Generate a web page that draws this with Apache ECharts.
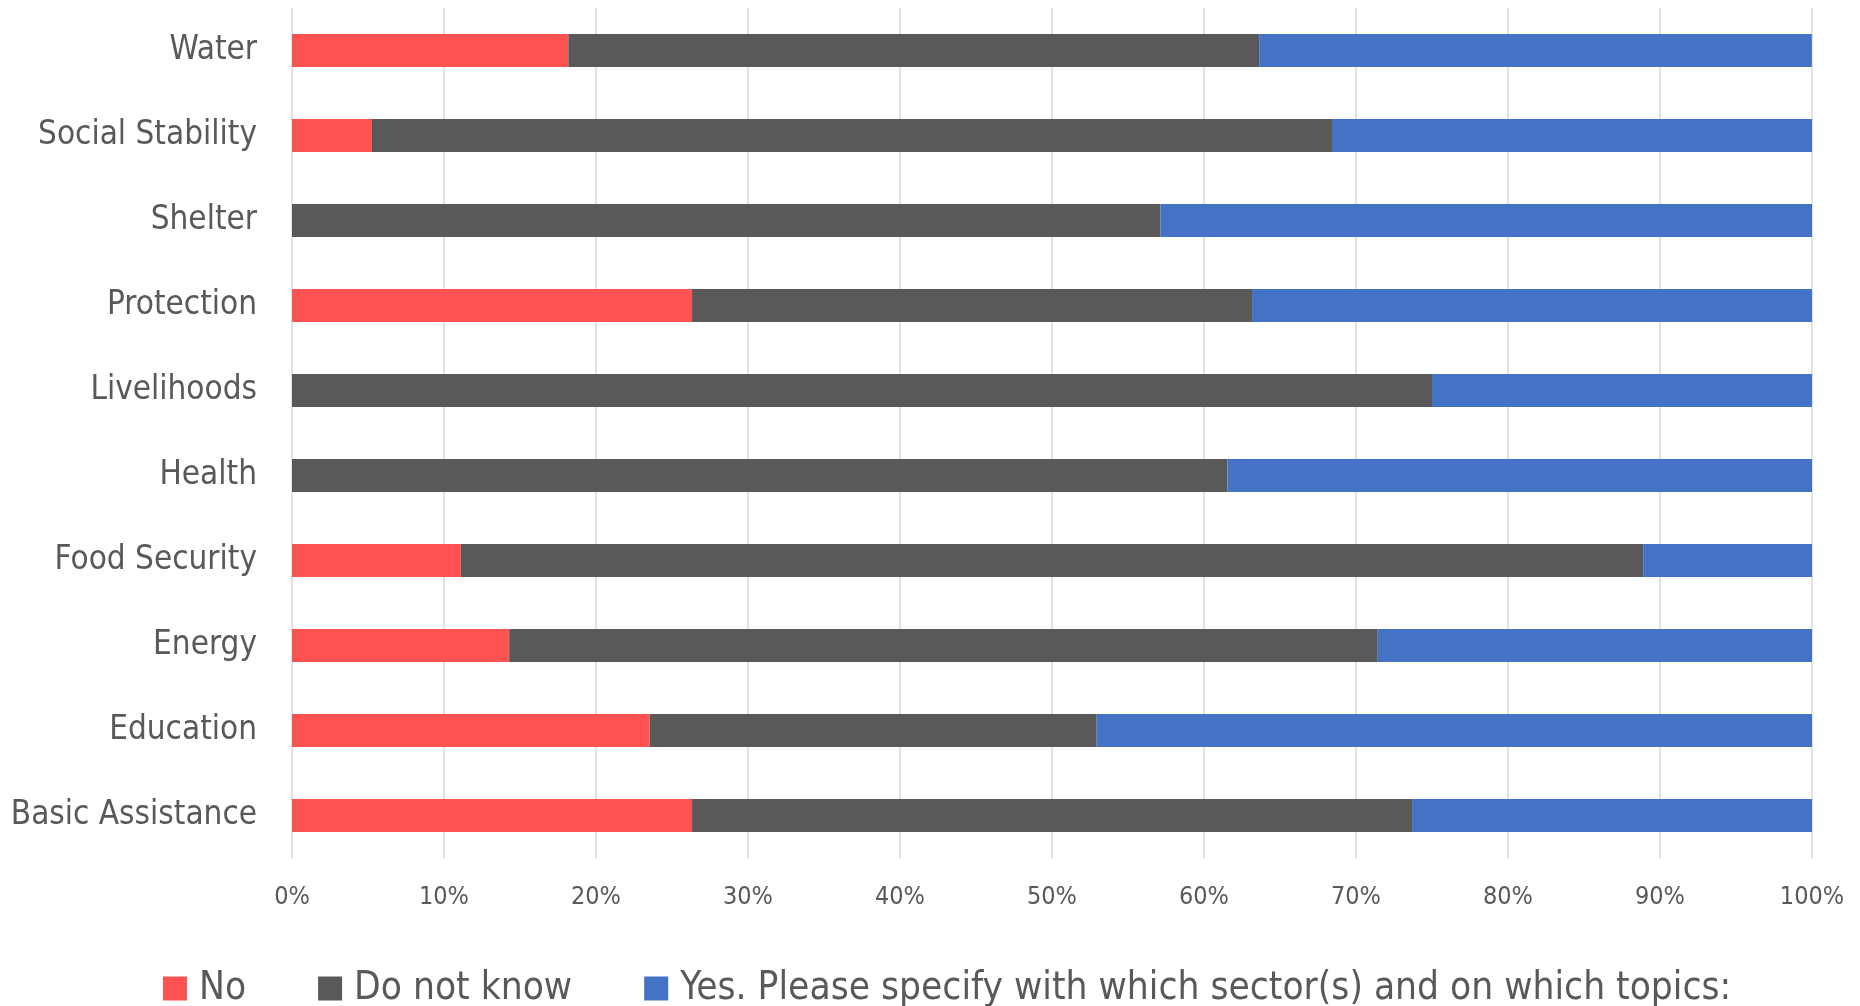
<!doctype html>
<html>
	<head>
		<meta charset="utf-8">
		<script src="https://cdn.jsdelivr.net/npm/echarts@6/dist/echarts.min.js"></script>
		<title>Coordination by sector</title>
		<style>
			html, body { margin: 0; padding: 0; background: #ffffff; }
			#chart { width: 1860px; height: 1006px; }
		</style>
	</head>
	<body>
		<div id="chart"></div>
		<script>

		// bottom to top, like the category axis draws them
		var sectors = ['Basic Assistance', 'Education', 'Energy', 'Food Security', 'Health',
			'Livelihoods', 'Protection', 'Shelter', 'Social Stability', 'Water']

		var no_values = [26.32, 23.53, 14.29, 11.11, 0, 0, 26.32, 0, 5.26, 18.18]
		var dont_know_values = [47.37, 29.41, 57.14, 77.78, 61.54, 75.00, 36.84, 57.14, 63.16, 45.45]
		var yes_values = [26.32, 47.06, 28.57, 11.11, 38.46, 25.00, 36.84, 42.86, 31.58, 36.36]

		var series_names = ['No', 'Do not know', 'Yes. Please specify with which sector(s) and on which topics:']
		var colors = ['#FF5252', '#595959', '#4472C4']

		var font = "'Liberation Sans Narrow', 'DejaVu Sans Condensed', sans-serif"
		var text_color = '#595959'

		var all_values = [no_values, dont_know_values, yes_values]
		var series = []
		all_values.forEach((values, i) => {
			series.push({
				name: series_names[i],
				type: 'bar',
				stack: 'total',
				data: values,
				barCategoryGap: '61%',
				itemStyle: { color: colors[i] }
			})
		})

		var chart = echarts.init(document.getElementById('chart'))

		var option = {
			animation: false,
			textStyle: { fontFamily: font, color: text_color },
			grid: {
				left: 292,
				right: 48,
				top: 8,
				bottom: 148,
				containLabel: false,
				outerBoundsMode: 'none'
			},
			legend: {
				bottom: -7,
				left: 158,
				icon: 'rect',
				itemWidth: 24,
				itemHeight: 24,
				itemGap: 72,
				textStyle: { fontFamily: font, fontSize: 38.5, color: text_color, padding: [0, 0, 0, 7] },
				data: series_names
			},
			xAxis: {
				type: 'value',
				min: 0,
				max: 100,
				interval: 10,
				axisLine: { show: false },
				axisTick: { show: false },
				splitLine: { lineStyle: { color: '#D9D9D9', width: 1.5 } },
				axisLabel: {
					formatter: '{value}%',
					fontFamily: font,
					fontSize: 25,
					color: text_color,
					margin: 27
				}
			},
			yAxis: {
				type: 'category',
				data: sectors,
				axisLine: { show: false },
				axisTick: { show: false },
				axisLabel: {
					fontFamily: font,
					fontSize: 33,
					color: text_color,
					margin: 35
				}
			},
			series: series
		}

		chart.setOption(option)

		</script>
	</body>
</html>
